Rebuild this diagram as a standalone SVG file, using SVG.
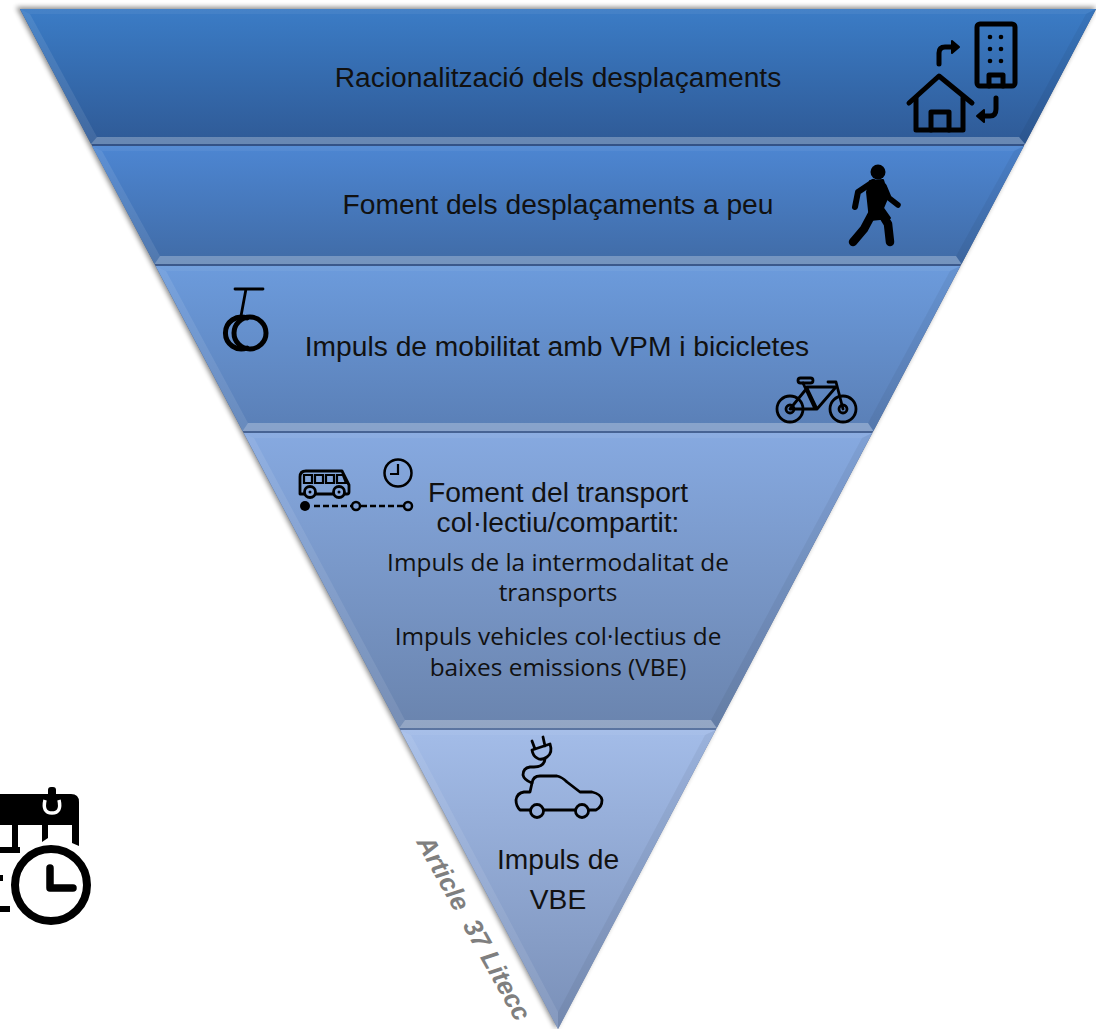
<svg xmlns="http://www.w3.org/2000/svg" width="1096" height="1029" viewBox="0 0 1096 1029">
<style>
.t{font-family:"Liberation Sans",Arial,sans-serif;font-size:28.2px;fill:#111;text-anchor:middle}
.c{font-family:"Open Sans","Noto Sans",sans-serif;font-size:24.4px;fill:#111;text-anchor:middle}
.i{fill:none;stroke:#000;stroke-width:5;stroke-linecap:round;stroke-linejoin:round}
.s{fill:none;stroke:#000;stroke-width:2.8;stroke-linecap:round;stroke-linejoin:round}
.strip{fill:#fff;opacity:.28}
.side{fill:#fff;opacity:.09}
.top{fill:#fff;opacity:.05}
.lo{fill:#000;opacity:.05}
</style>
<defs>
<linearGradient id="g1" x1="0" y1="0" x2="0" y2="1"><stop offset="0" stop-color="#3b7cc6"/><stop offset="1" stop-color="#2f5a96"/></linearGradient>
<linearGradient id="g2" x1="0" y1="0" x2="0" y2="1"><stop offset="0" stop-color="#4d86d2"/><stop offset="1" stop-color="#406ba6"/></linearGradient>
<linearGradient id="g3" x1="0" y1="0" x2="0" y2="1"><stop offset="0" stop-color="#6c9bdc"/><stop offset="1" stop-color="#5a7fb6"/></linearGradient>
<linearGradient id="g4" x1="0" y1="0" x2="0" y2="1"><stop offset="0" stop-color="#86a9e0"/><stop offset="1" stop-color="#6a84ae"/></linearGradient>
<linearGradient id="g5" x1="0" y1="0" x2="0" y2="1"><stop offset="0" stop-color="#a3bce8"/><stop offset="1" stop-color="#7a90b8"/></linearGradient>
<linearGradient id="gb" x1="0" y1="0" x2="0" y2="1"><stop offset="0" stop-color="#2a4a80"/><stop offset="1" stop-color="#6f86ae"/></linearGradient>
<filter id="sh" x="-5%" y="-5%" width="110%" height="110%"><feGaussianBlur stdDeviation="2.5"/></filter>
</defs>
<rect width="1096" height="1029" fill="#fff"/>
<polygon points="16,7 1096,7 556,1029" fill="#000" opacity=".45" filter="url(#sh)"/>
<polygon points="20,9 1096,9 558,1029" fill="url(#gb)"/>

<g id="band1">
<polygon points="20,9 1096,9 1025,144 91,144" fill="url(#g1)"/>
<polygon class="top" points="20,9 1096,9 1086,14 30,14"/>
<polygon class="side" points="20,9 30,14 97,137 91,144"/>
<polygon class="lo" points="1096,9 1086,14 1019,137 1025,144"/>
<polygon class="strip" points="91,144 97,137 1019,137 1025,144"/>
<text class="t" x="558" y="87">Racionalització dels desplaçaments</text>
<g class="icon">
<path class="i" d="M909 103 L939 76 L972 103"/>
<path class="i" d="M916 98 V130 H963 V98"/>
<path class="i" d="M931 130 V112 H949 V130"/>
<rect class="i" x="977" y="24" width="38" height="62" rx="3"/>
<path class="i" d="M989 86 V75 H1003 V86"/>
<g fill="#000"><circle cx="990" cy="37" r="2.3"/><circle cx="1001" cy="37" r="2.3"/><circle cx="990" cy="49" r="2.3"/><circle cx="1001" cy="49" r="2.3"/><circle cx="990" cy="61" r="2.3"/><circle cx="1001" cy="61" r="2.3"/></g>
<path class="i" d="M939 64 V53 Q939 47 945 47 H953"/>
<path d="M952 41 L959 47 L952 53Z" fill="#000" stroke="#000" stroke-width="2" stroke-linejoin="round"/>
<path class="i" d="M996 98 V109 Q996 116 990 116 H983"/>
<path d="M984 110 L977 116 L984 122Z" fill="#000" stroke="#000" stroke-width="2" stroke-linejoin="round"/>
</g>
</g>

<g id="band2">
<polygon points="92,146 1024,146 961.500,264 154.500,264" fill="url(#g2)"/>
<polygon class="top" points="92,146 1024,146 1014,151 102,151"/>
<polygon class="side" points="92,146 102,151 160,256 154.500,264"/>
<polygon class="lo" points="1024,146 1014,151 956,256 961.500,264"/>
<polygon class="strip" points="154.500,264 160,256 956,256 961.500,264"/>
<text class="t" x="558" y="214">Foment dels desplaçaments a peu</text>
<g class="icon">
<circle cx="878" cy="172" r="7.5" fill="#000"/>
<path d="M873 182 L858 192 L855 207" fill="none" stroke="#000" stroke-width="6" stroke-linecap="round" stroke-linejoin="round"/>
<path d="M884 186 L889 198 L898 205" fill="none" stroke="#000" stroke-width="5.500" stroke-linecap="round" stroke-linejoin="round"/>
<path d="M870 181 L883 180 L888 196 L883 208 L890 218 L870 220 L867 192Z" fill="#000" stroke="#000" stroke-width="2" stroke-linejoin="round"/>
<path d="M872 214 L864 229 L853 242" fill="none" stroke="#000" stroke-width="8.500" stroke-linecap="round" stroke-linejoin="round"/>
<path d="M880 211 L888 224 L890 242" fill="none" stroke="#000" stroke-width="8.500" stroke-linecap="round" stroke-linejoin="round"/>
</g>
</g>

<g id="band3">
<polygon points="155.600,266 960.400,266 873.400,431 242.600,431" fill="url(#g3)"/>
<polygon class="top" points="155.600,266 960.400,266 950,271 166,271"/>
<polygon class="side" points="155.600,266 166,271 248,423 242.600,431"/>
<polygon class="lo" points="960.400,266 950,271 868,423 873.400,431"/>
<polygon class="strip" points="242.600,431 248,423 868,423 873.400,431"/>
<text class="t" x="557" y="356">Impuls de mobilitat amb VPM i bicicletes</text>
<g class="icon">
<path class="s" d="M235 289 H263 M246 289 L241 316" stroke-width="3.500"/>
<path class="i" d="M247 318 A16 16 0 1 0 247 348" stroke-width="4.500"/>
<circle class="i" cx="250" cy="333" r="16" stroke-width="4.500"/>
<circle class="s" cx="790" cy="409" r="13"/><circle class="s" cx="790" cy="409" r="4"/>
<circle class="s" cx="843" cy="409" r="13"/><circle class="s" cx="843" cy="409" r="4"/>
<path class="s" d="M790 409 L807 388 L817 409 L836 387 H807 M817 409 H790 M803 383 L815 409"/>
<rect class="s" x="798" y="378" width="15" height="5" rx="2.500"/>
<path class="s" d="M828 382 H836 L843 409"/>
</g>
</g>

<g id="band4">
<polygon points="243.700,433 872.300,433 716.700,728 399.300,728" fill="url(#g4)"/>
<polygon class="top" points="243.700,433 872.300,433 862,438 254,438"/>
<polygon class="side" points="243.700,433 254,438 405,720 399.300,728"/>
<polygon class="lo" points="872.300,433 862,438 711,720 716.700,728"/>
<polygon class="strip" points="399.300,728 405,720 711,720 716.700,728"/>
<text class="t" x="558" y="502">Foment del transport</text>
<text class="t" x="558" y="532">col·lectiu/compartit:</text>
<text class="c" x="558" y="571">Impuls de la intermodalitat de</text>
<text class="c" x="558" y="601">transports</text>
<text class="c" x="558" y="645">Impuls vehicles col·lectius de</text>
<text class="c" x="558" y="676">baixes emissions (VBE)</text>
<g class="icon">
<path class="s" d="M300 494 V477 Q300 471 306 471 H342 L349 485 V492 Q349 494 347 494 H300Z" stroke-width="3"/>
<path d="M304 475 h8 v8 h-8z M315 475 h8 v8 h-8z M326 475 h8 v8 h-8z M337 475 h6 l3 8 h-9z" fill="none" stroke="#000" stroke-width="2.200"/>
<circle cx="310" cy="492" r="5.500" fill="#85a5da" stroke="#000" stroke-width="2.800"/><circle cx="310" cy="492" r="1.500"/>
<circle cx="339" cy="492" r="5.500" fill="#85a5da" stroke="#000" stroke-width="2.800"/><circle cx="339" cy="492" r="1.500"/>
<circle cx="398" cy="473" r="13.500" fill="none" stroke="#000" stroke-width="2.500"/>
<path d="M398 464 V474 H390" fill="none" stroke="#000" stroke-width="2.200"/>
<circle cx="305" cy="506" r="5" fill="#000"/>
<path d="M314 506 H351 M361 506 H403" fill="none" stroke="#000" stroke-width="2.500" stroke-dasharray="6 3"/>
<circle cx="356" cy="506" r="4" fill="none" stroke="#000" stroke-width="2.500"/>
<circle cx="408" cy="506" r="4" fill="none" stroke="#000" stroke-width="2.500"/>
</g>
</g>

<g id="band5">
<polygon points="400.300,730 715.700,730 558,1029" fill="url(#g5)"/>
<polygon class="top" points="400.300,730 715.700,730 705,735 411,735"/>
<polygon class="side" points="400.300,730 411,735 558,1012 558,1029"/>
<polygon class="lo" points="715.700,730 705,735 558,1012 558,1029"/>
<text class="t" x="558" y="869">Impuls de</text>
<text class="t" x="558" y="909">VBE</text>
<g class="icon">
<path class="s" d="M532 750 L550 744 Q553 753 547 757 Q541 761 537 758 Q533 756 532 750Z M535 749 L532 741 M545 746 L543 737" stroke-width="3.200"/>
<path class="s" d="M545 759 Q544 767 534 767 H530 Q523 768 523 775 Q524 780 532 783" stroke-width="3.200"/>
<path class="s" d="M530 810 H520 Q516 806 516 800 Q517 793 524 792 H530 L532 783 Q533 776 540 776 H557 Q562 777 567 782 L580 792 H592 Q601 794 602 800 Q602 807 596 810 H589 M575 810 H544"/>
<circle class="s" cx="537" cy="811" r="6.500"/><circle class="s" cx="582" cy="811" r="6.500"/>
</g>
</g>

<g id="label-article"><text x="416" y="842" transform="rotate(61 416 842)" font-family="Liberation Sans,Arial,sans-serif" font-size="26" font-weight="bold" font-style="italic" fill="#7f7f7f" xml:space="preserve">Article  37 Litecc</text></g>

<g id="calendar">
<path d="M0 794 H71 Q79 794 79 802 V846 L72 843 V825 H48 V838 L42 842 V825 H18 V848 H12 V825 H0Z" fill="#000"/>
<rect x="48" y="787" width="8" height="24" rx="3" fill="#000"/>
<path d="M45 800 Q42 813 52 813 Q62 813 59 800" fill="none" stroke="#fff" stroke-width="3.500"/>
<path d="M0 850 H20" stroke="#000" stroke-width="6" fill="none"/>
<path d="M0 878 H3 M0 909 H10" stroke="#000" stroke-width="6" fill="none"/>
<circle cx="51" cy="885" r="36" fill="#fff" stroke="#000" stroke-width="8"/>
<path d="M50 868 V888 H73" fill="none" stroke="#000" stroke-width="7.500" stroke-linecap="round" stroke-linejoin="round"/>
</g>
</svg>
